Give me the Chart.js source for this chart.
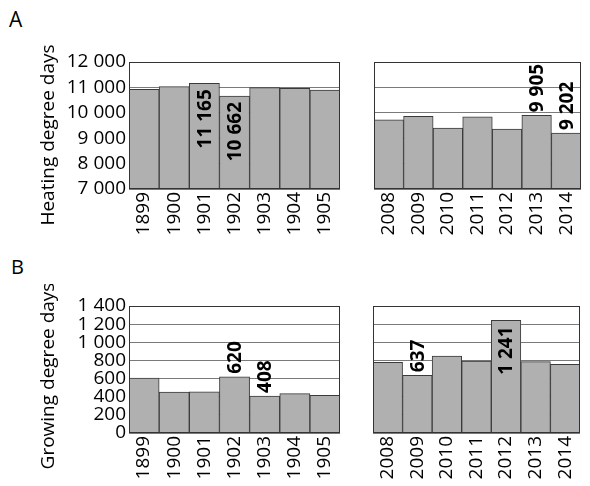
<!DOCTYPE html>
<html>
<head>
<meta charset="utf-8">
<script src="https://cdn.jsdelivr.net/npm/chart.js@4"></script>
<style>
body { margin:0; background:#fff; width:590px; height:486px; overflow:hidden; position:relative; font-family:"Open Sans"; }
canvas { position:absolute; }
.tag { position:absolute; color:#000; }
</style>
</head>
<body>
<div class="tag" style="left:9px;top:5px;font-size:21px">A</div>
<div class="tag" style="left:11px;top:253px;font-size:20px">B</div>
<canvas id="heatOld" width="351" height="197" style="left:0;top:40px"></canvas>
<canvas id="heatNew" width="222" height="197" style="left:370px;top:40px"></canvas>
<canvas id="growOld" width="351" height="202" style="left:0;top:284px"></canvas>
<canvas id="growNew" width="222" height="202" style="left:369px;top:284px"></canvas>
<script>
// years
const yearsOld = ['1899', '1900', '1901', '1902', '1903', '1904', '1905'];
const yearsNew = ['2008', '2009', '2010', '2011', '2012', '2013', '2014'];

// heating degree days (A)
const heatOldVals = [10920, 11030, 11165, 10662, 10990, 10960, 10895];
const heatNewVals = [9720, 9865, 9395, 9840, 9355, 9905, 9202];
// growing degree days (B)
const growOldVals = [606, 452, 455, 620, 408, 434, 414];
const growNewVals = [778, 637, 849, 794, 1241, 786, 757];

// value labels shown on the bars (bar index)
const heatOldMarked = [2, 3];
const heatNewMarked = [5, 6];
const growOldMarked = [3, 4];
const growNewMarked = [1, 4];

const heatRange = [7000, 12000, 1000];
const growRange = [0, 1400, 200];

Chart.defaults.font.family = '"Open Sans"';
Chart.defaults.font.size = 19;
Chart.defaults.color = '#000';

function fmt(v) {
	return String(v).replace(/\B(?=(\d{3})+(?!\d))/g, ' ');
}

// frame around plot + rotated value labels + y title
const extras = {
	id: 'extras',
	afterDraw(chart, args, o) {
		const ctx = chart.ctx, a = chart.chartArea;
		ctx.save();
		ctx.strokeStyle = '#333';
		ctx.lineWidth = 1;
		ctx.strokeRect(Math.round(a.left) + 0.5, Math.round(a.top) + 0.5,
			Math.round(a.right - a.left) - 1, Math.round(a.bottom - a.top) - 1);

		const meta = chart.getDatasetMeta(0);
		const vals = chart.data.datasets[0].data;
		ctx.font = 'bold 19px "Open Sans"';
		ctx.fillStyle = '#000';
		ctx.textBaseline = 'middle';
		(o.marks || []).forEach(function (i) {
			const bar = meta.data[i];
			const inside = o.inside && o.inside.includes(i);
			ctx.save();
			ctx.translate(bar.x, inside ? bar.y + 6 : bar.y - 3);
			ctx.rotate(-Math.PI / 2);
			ctx.textAlign = inside ? 'right' : 'left';
			ctx.fillText(fmt(vals[i]), 0, 1);
			ctx.restore();
		});

		if (o.title) {
			ctx.font = '19px "Open Sans"';
			ctx.translate(o.tx, o.ty);
			ctx.rotate(-Math.PI / 2);
			ctx.textAlign = 'center';
			ctx.fillText(o.title, 0, 0);
		}
		ctx.restore();
	}
};

function panel(id, labels, values, range, opt) {
	new Chart(document.getElementById(id), {
		type: 'bar',
		data: {
			labels: labels,
			datasets: [{
				data: values,
				backgroundColor: '#b0b0b0',
				borderColor: '#3a3a3a',
				borderWidth: 1,
				barPercentage: 1,
				categoryPercentage: 1
			}]
		},
		options: {
			responsive: false,
			animation: false,
			layout: { padding: { top: 22, left: opt.padLeft, right: opt.padRight, bottom: 0 } },
			plugins: {
				legend: { display: false },
				tooltip: { enabled: false },
				extras: opt.extras
			},
			scales: {
				x: {
					grid: { display: false, drawTicks: false },
					border: { display: false },
					ticks: { minRotation: 90, maxRotation: 90, autoSkip: false, padding: 3 },
					afterFit: function (s) { s.height = opt.xh; }
				},
				y: {
					min: range[0],
					max: range[1],
					z: 1,
					grid: { color: '#7a7a7a', drawTicks: false },
					border: { display: false },
					ticks: { display: opt.showY, stepSize: range[2], autoSkip: false, padding: 3, callback: fmt },
					afterFit: function (s) { s.width = opt.showY ? 129 : 0; }
				}
			}
		},
		plugins: [extras]
	});
}

panel('heatOld', yearsOld, heatOldVals, heatRange, {
	showY: true, padLeft: 0, padRight: 3, xh: 48,
	extras: { marks: heatOldMarked, inside: [2, 3], title: 'Heating degree days', tx: 49, ty: 95 }
});
panel('heatNew', yearsNew, heatNewVals, heatRange, {
	showY: false, padLeft: 4, padRight: 0, xh: 48,
	extras: { marks: heatNewMarked }
});
panel('growOld', yearsOld, growOldVals, growRange, {
	showY: true, padLeft: 0, padRight: 3, xh: 53,
	extras: { marks: growOldMarked, title: 'Growing degree days', tx: 49, ty: 92 }
});
panel('growNew', yearsNew, growNewVals, growRange, {
	showY: false, padLeft: 4, padRight: 0, xh: 53,
	extras: { marks: growNewMarked, inside: [4] }
});
</script>
</body>
</html>
